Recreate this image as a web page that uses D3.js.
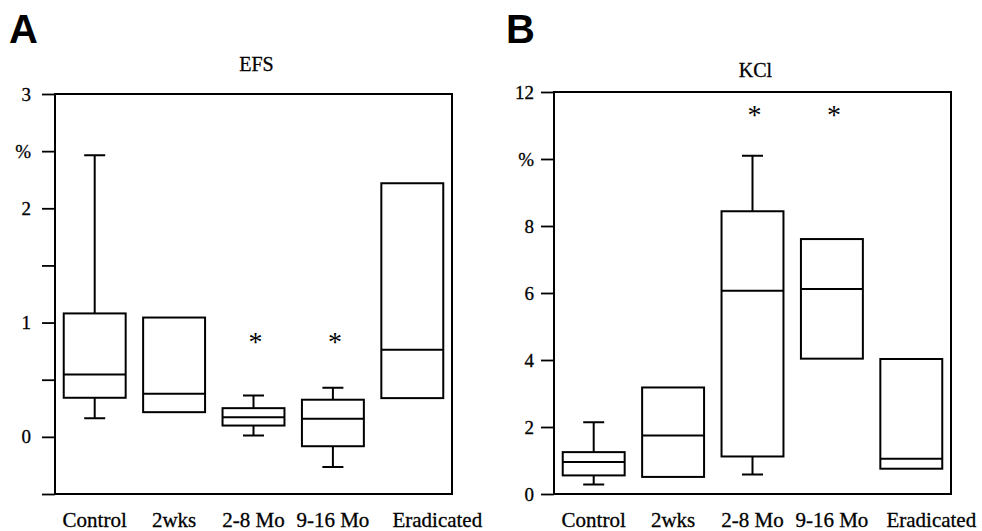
<!DOCTYPE html>
<html>
<head>
<meta charset="utf-8">
<script src="https://cdn.jsdelivr.net/npm/d3@7"></script>
<style>
  body { margin: 0; background: #fff; }
  svg { display: block; }
</style>
</head>
<body>
<div id="chart"></div>
<script>
// groups on the x axis (same for both panels)
const groups = ["Control", "2wks", "2-8 Mo", "9-16 Mo", "Eradicated"];

// panel A - EFS (null = no whisker)
const efsLow = [0.163, null, 0.011, -0.263, null];
const efsQ1 = [0.342, 0.216, 0.099, -0.082, 0.339];
const efsMedian = [0.546, 0.377, 0.172, 0.158, 0.763];
const efsQ3 = [1.08, 1.044, 0.251, 0.325, 2.219];
const efsHigh = [2.465, null, 0.362, 0.43, null];
const efsStars = [false, false, true, true, false];
const efsTicks = [-0.5, 0, 0.5, 1, 1.5, 2, 2.5, 3];
const efsTickLabels = ["", "0", "", "1", "", "2", "%", "3"];

// panel B - KCl
const kclLow = [0.28, null, 0.58, null, null];
const kclQ1 = [0.555, 0.51, 1.12, 4.04, 0.755];
const kclMedian = [0.955, 1.75, 6.07, 6.12, 1.05];
const kclQ3 = [1.25, 3.18, 8.44, 7.61, 4.03];
const kclHigh = [2.14, null, 10.1, null, null];
const kclStars = [false, false, true, true, false];
const kclTicks = [0, 2, 4, 6, 8, 10, 12];
const kclTickLabels = ["0", "2", "4", "6", "8", "%", "12"];

const serif = "Liberation Serif";

class BoxPanel {
  constructor(svg, cfg) {
    this.svg = svg;
    this.cfg = cfg;
    this.initVis();
  }

  initVis() {
    let vis = this;
    let c = vis.cfg;

    vis.g = vis.svg.append("g").attr("class", "panel");

    vis.x = d3
      .scaleBand()
      .domain(groups)
      .range([c.left, c.right])
      .paddingInner(0.22)
      .paddingOuter(0.11);

    vis.y = d3.scaleLinear().domain(c.domain).range([c.bottom, c.top]);

    // panel letter
    vis.g
      .append("text")
      .attr("x", c.letterX)
      .attr("y", 43)
      .text(c.letter)
      .attr("font-family", "Liberation Sans")
      .attr("font-weight", "700")
      .attr("font-size", 40);

    // title
    vis.g
      .append("text")
      .attr("x", (c.left + c.right) / 2 + 3)
      .attr("y", c.titleY)
      .attr("text-anchor", "middle")
      .text(c.title)
      .attr("font-family", serif)
      .attr("font-size", 20)
      .attr("stroke", "black")
      .attr("stroke-width", 0.3);

    // y axis
    let axis = d3
      .axisLeft(vis.y)
      .tickValues(c.ticks)
      .tickFormat((d, i) => c.tickLabels[i])
      .tickSize(13)
      .tickPadding(c.tickPad)
      .tickSizeOuter(0);

    vis.yAxis = vis.g
      .append("g")
      .attr("transform", `translate(${c.left},0)`)
      .call(axis);
    vis.yAxis.select(".domain").remove();
    vis.yAxis
      .attr("font-family", serif)
      .attr("font-size", 19);
    vis.yAxis.selectAll(".tick line").attr("stroke-width", 1.8);
    vis.yAxis
      .selectAll(".tick text")
      .attr("stroke", "black")
      .attr("stroke-width", 0.3);

    // frame
    vis.g
      .append("rect")
      .attr("x", c.left)
      .attr("y", c.top)
      .attr("width", c.right - c.left)
      .attr("height", c.bottom - c.top)
      .attr("fill", "none")
      .attr("stroke", "black")
      .attr("stroke-width", 2);

    // category labels
    vis.g
      .append("g")
      .selectAll("text")
      .data(groups)
      .join("text")
      .attr("x", (d) => vis.x(d) + vis.x.bandwidth() / 2)
      .attr("dx", (d, i) => (i === groups.length - 1 ? c.lastShift : 0))
      .attr("y", 527)
      .attr("text-anchor", "middle")
      .text((d) => d)
      .attr("font-family", serif)
      .attr("font-size", 21)
      .attr("stroke", "black")
      .attr("stroke-width", 0.3);

    vis.rows = groups.map((d, i) => ({
      group: d,
      low: c.low[i],
      q1: c.q1[i],
      median: c.median[i],
      q3: c.q3[i],
      high: c.high[i],
      star: c.stars[i]
    }));

    vis.drawBoxes();
  }

  drawBoxes() {
    let vis = this;
    let c = vis.cfg;
    let bw = vis.x.bandwidth();
    let cap = 21;

    let box = vis.g
      .append("g")
      .attr("class", "boxes")
      .selectAll("g")
      .data(vis.rows)
      .join("g")
      .attr("fill", "none")
      .attr("stroke", "black")
      .attr("stroke-width", 2);

    let mid = (d) => vis.x(d.group) + bw / 2;

    // upper whisker
    box
      .filter((d) => d.high !== null)
      .append("path")
      .attr(
        "d",
        (d) =>
          `M${mid(d)},${vis.y(d.q3)}V${vis.y(d.high)}` +
          `M${mid(d) - cap / 2},${vis.y(d.high)}h${cap}`
      );

    // lower whisker
    box
      .filter((d) => d.low !== null)
      .append("path")
      .attr(
        "d",
        (d) =>
          `M${mid(d)},${vis.y(d.q1)}V${vis.y(d.low)}` +
          `M${mid(d) - cap / 2},${vis.y(d.low)}h${cap}`
      );

    box
      .append("rect")
      .attr("x", (d) => vis.x(d.group))
      .attr("y", (d) => vis.y(d.q3))
      .attr("width", bw)
      .attr("height", (d) => vis.y(d.q1) - vis.y(d.q3));

    box
      .append("line")
      .attr("x1", (d) => vis.x(d.group))
      .attr("x2", (d) => vis.x(d.group) + bw)
      .attr("y1", (d) => vis.y(d.median))
      .attr("y2", (d) => vis.y(d.median));

    // significance stars
    vis.g
      .append("g")
      .selectAll("text")
      .data(vis.rows.filter((d) => d.star))
      .join("text")
      .attr("x", (d) => mid(d) + 2)
      .attr("y", vis.y(c.starValue) + 13)
      .attr("text-anchor", "middle")
      .text("*")
      .attr("font-family", serif)
      .attr("font-size", 28);
  }
}

let svg = d3
  .select("#chart")
  .append("svg")
  .attr("width", 982)
  .attr("height", 531);

new BoxPanel(svg, {
  letter: "A",
  letterX: 9,
  title: "EFS",
  titleY: 71,
  left: 55,
  right: 452,
  top: 94,
  bottom: 494,
  tickPad: 11,
  domain: [-0.5, 3],
  ticks: efsTicks,
  tickLabels: efsTickLabels,
  low: efsLow,
  q1: efsQ1,
  median: efsMedian,
  q3: efsQ3,
  high: efsHigh,
  stars: efsStars,
  starValue: 0.865,
  lastShift: 25
});

new BoxPanel(svg, {
  letter: "B",
  letterX: 506,
  title: "KCl",
  titleY: 77,
  left: 554,
  right: 951,
  top: 92,
  bottom: 494,
  tickPad: 7,
  domain: [0, 12],
  ticks: kclTicks,
  tickLabels: kclTickLabels,
  low: kclLow,
  q1: kclQ1,
  median: kclMedian,
  q3: kclQ3,
  high: kclHigh,
  stars: kclStars,
  starValue: 11.42,
  lastShift: 20
});
</script>
</body>
</html>
